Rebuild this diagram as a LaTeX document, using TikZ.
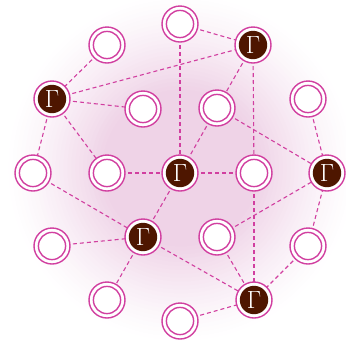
\documentclass[tikz,border=0pt]{standalone}
\definecolor{mag}{HTML}{D13FA0}
\definecolor{darkfill}{HTML}{4E1600}
\definecolor{glowA}{HTML}{EFD3E7}
\tikzset{
  ringnode/.style={circle, draw=mag, line width=1.4pt, minimum size=36pt, inner sep=0pt, fill=white},
  link/.style={draw=mag, line width=1.1pt, dash pattern=on 4pt off 3pt},
  gammatext/.style={text=white, inner sep=0pt, font=\fontsize{24}{24}\selectfont},
}
\newcommand{\wn}[2]{%
  \node[ringnode] (#1) at #2 {};
  \draw[mag, line width=1.4pt] #2 circle (13.6pt);}
\newcommand{\gn}[2]{%
  \node[ringnode] (#1) at #2 {};
  \fill[darkfill] #2 circle (14.2pt);
  \node[gammatext] at #2 {$\Gamma$};}
\begin{document}
\begin{tikzpicture}[x=1pt, y=-1pt]
\useasboundingbox (0,0) rectangle (346,341);
\foreach \i in {0,...,44}{
  \pgfmathsetmacro{\rr}{176*(1-\i/45)}
  \pgfmathsetmacro{\pc}{100*min(1,(\i/45)/0.55)^1.3}
  \fill[glowA!\pc!white] (181,168) circle (\rr);
}
% coordinates
\coordinate (p1) at (107,45);
\coordinate (p2) at (180,24);
\coordinate (p3) at (253,45);
\coordinate (p4) at (52,99);
\coordinate (p5) at (143,109);
\coordinate (p6) at (217,108);
\coordinate (p7) at (308,99);
\coordinate (p8) at (33,173);
\coordinate (p9) at (107,173);
\coordinate (p10) at (180,173);
\coordinate (p11) at (254,173);
\coordinate (p12) at (327,173);
\coordinate (p13) at (52,246);
\coordinate (p14) at (143,237);
\coordinate (p15) at (217,237);
\coordinate (p16) at (308,246);
\coordinate (p17) at (107,300);
\coordinate (p18) at (180,321);
\coordinate (p19) at (254,300);
% edges
\foreach \a/\b in {1/4, 2/3, 2/10, 4/3, 3/6, 3/11, 4/5, 4/9, 4/8, 6/10, 6/12, 7/12, 9/10, 10/11, 10/14, 8/14, 13/14, 14/17, 14/19, 15/12, 16/12, 16/19, 11/19, 15/19, 18/19}
  \draw[link] (p\a) -- (p\b);
% nodes
\wn{n1}{(p1)}
\wn{n2}{(p2)}
\gn{n3}{(p3)}
\gn{n4}{(p4)}
\wn{n5}{(p5)}
\wn{n6}{(p6)}
\wn{n7}{(p7)}
\wn{n8}{(p8)}
\wn{n9}{(p9)}
\gn{n10}{(p10)}
\wn{n11}{(p11)}
\gn{n12}{(p12)}
\wn{n13}{(p13)}
\gn{n14}{(p14)}
\wn{n15}{(p15)}
\wn{n16}{(p16)}
\wn{n17}{(p17)}
\wn{n18}{(p18)}
\gn{n19}{(p19)}
\end{tikzpicture}
\end{document}
